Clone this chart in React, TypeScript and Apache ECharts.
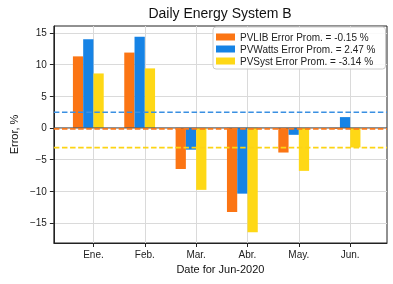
import React, { useEffect, useRef } from "react";
import * as echarts from "echarts";

const categories = ["Ene.", "Feb.", "Mar.", "Abr.", "May.", "Jun."];
const pvlibErr = [11.3, 11.9, -6.5, -13.3, -3.9, -0.15];
const pvwattsErr = [14.0, 14.4, -3.45, -10.4, -1.1, 1.7];
const pvsystErr = [8.6, 9.4, -9.8, -16.5, -6.8, -3.1];
const seriesNames = [
  "PVLIB Error Prom. = -0.15 %",
  "PVWatts Error Prom. = 2.47 %",
  "PVSyst Error Prom. = -3.14 %",
];
const meanErr = [-0.15, 2.47, -3.14];
const yTicks = [-15, -10, -5, 0, 5, 10, 15];

const colors = ["#fb7514", "#1683e5", "#fed816"];
const dashColors = ["#f8781c", "#3a90e2", "#fcd414"];
const X_MIN = -0.771;
const X_MAX = 5.717;
const BAR_W = 0.2;
const FONT = "Liberation Sans, Arial, sans-serif";

function minus(v: number): string {
  return v < 0 ? "\u2212" + Math.abs(v) : String(v);
}

export default function App() {
  const ref = useRef<HTMLDivElement>(null);
  useEffect(() => {
    if (!ref.current) return;
    const chart = echarts.init(ref.current, undefined, { renderer: "svg" });
    const all = [pvlibErr, pvwattsErr, pvsystErr];
    const offsets = [-0.4, -0.2, 0];
    const barSeries = all.map((vals, k) => ({
      type: "custom",
      name: seriesNames[k],
      itemStyle: { color: colors[k] },
      z: 2,
      encode: { x: 0, y: 1 },
      data: vals.map((v, i) => [i, v]),
      renderItem: (params: any, api: any) => {
        const x = api.value(0);
        const y = api.value(1);
        const p1 = api.coord([x + offsets[k], 0]);
        const p2 = api.coord([x + offsets[k] + BAR_W, y]);
        return {
          type: "rect",
          shape: {
            x: p1[0],
            y: Math.min(p1[1], p2[1]),
            width: p2[0] - p1[0],
            height: Math.abs(p2[1] - p1[1]),
          },
          style: { fill: colors[k] },
        };
      },
    }));
    const zeroLine = {
      type: "line",
      name: "zero",
      data: [[X_MIN, 0], [X_MAX, 0]],
      symbol: "none",
      silent: true,
      z: 3,
      lineStyle: { color: "#555", width: 1 },
    };
    const dashSeries = meanErr.map((m, k) => ({
      type: "line",
      name: "mean" + k,
      data: [[X_MIN, m], [X_MAX, m]],
      symbol: "none",
      silent: true,
      z: 4,
      lineStyle: { color: dashColors[k], width: 1.7, type: [5.5, 2.6] },
    }));
    chart.setOption({
      animation: false,
      grid: {
        left: 53,
        right: 6,
        top: 26,
        bottom: 41,
        show: true,
        borderColor: "#222",
        borderWidth: 1,
        backgroundColor: "transparent",
      },
      graphic: [
        {
          type: "text",
          x: 220,
          y: 13,
          style: {
            text: "Daily Energy System B",
            font: "14px " + FONT,
            fill: "#111",
            textAlign: "center",
            textVerticalAlign: "middle",
          },
        },
      ],
      legend: {
        orient: "vertical",
        left: 213,
        top: 27,
        data: seriesNames,
        icon: "rect",
        itemWidth: 19,
        itemHeight: 7,
        itemGap: 2,
        padding: [5, 10, 3, 3],
        backgroundColor: "rgba(255,255,255,0.85)",
        borderColor: "#ccc",
        borderWidth: 1,
        borderRadius: 3,
        textStyle: { fontFamily: FONT, fontSize: 10, color: "#222" },
      },
      xAxis: {
        type: "value",
        min: X_MIN,
        max: X_MAX,
        name: "Date for Jun-2020",
        nameLocation: "middle",
        nameGap: 18,
        nameTextStyle: { fontFamily: FONT, fontSize: 11, color: "#111" },
        axisLine: { show: true, onZero: false, lineStyle: { color: "#222", width: 1 } },
        axisTick: {
          show: true,
          length: 4,
          customValues: [0, 1, 2, 3, 4, 5],
          lineStyle: { color: "#222" },
        },
        axisLabel: {
          margin: 6,
          customValues: [0, 1, 2, 3, 4, 5],
          formatter: (v: number) => categories[Math.round(v)] ?? "",
          fontFamily: FONT,
          fontSize: 10,
          color: "#222",
        },
        splitLine: { show: true, lineStyle: { color: "#dadada", width: 1 } },
      },
      yAxis: {
        type: "value",
        min: -18.2,
        max: 16.1,
        name: "Error, %",
        nameLocation: "middle",
        nameGap: 29,
        nameTextStyle: { fontFamily: FONT, fontSize: 11, color: "#111" },
        axisLine: { show: true, onZero: false, lineStyle: { color: "#222", width: 1 } },
        axisTick: {
          show: true,
          length: 4,
          customValues: yTicks,
          lineStyle: { color: "#222" },
        },
        axisLabel: {
          margin: 7,
          customValues: yTicks,
          formatter: (v: number) => minus(v),
          fontFamily: FONT,
          fontSize: 10,
          color: "#222",
        },
        splitLine: { show: true, lineStyle: { color: "#dadada", width: 1 } },
      },
      series: [...barSeries, zeroLine, ...dashSeries],
    });
    return () => chart.dispose();
  }, []);
  return (
    <div
      ref={ref}
      style={{ position: "fixed", left: 0, top: 0, width: 393, height: 284 }}
    />
  );
}
